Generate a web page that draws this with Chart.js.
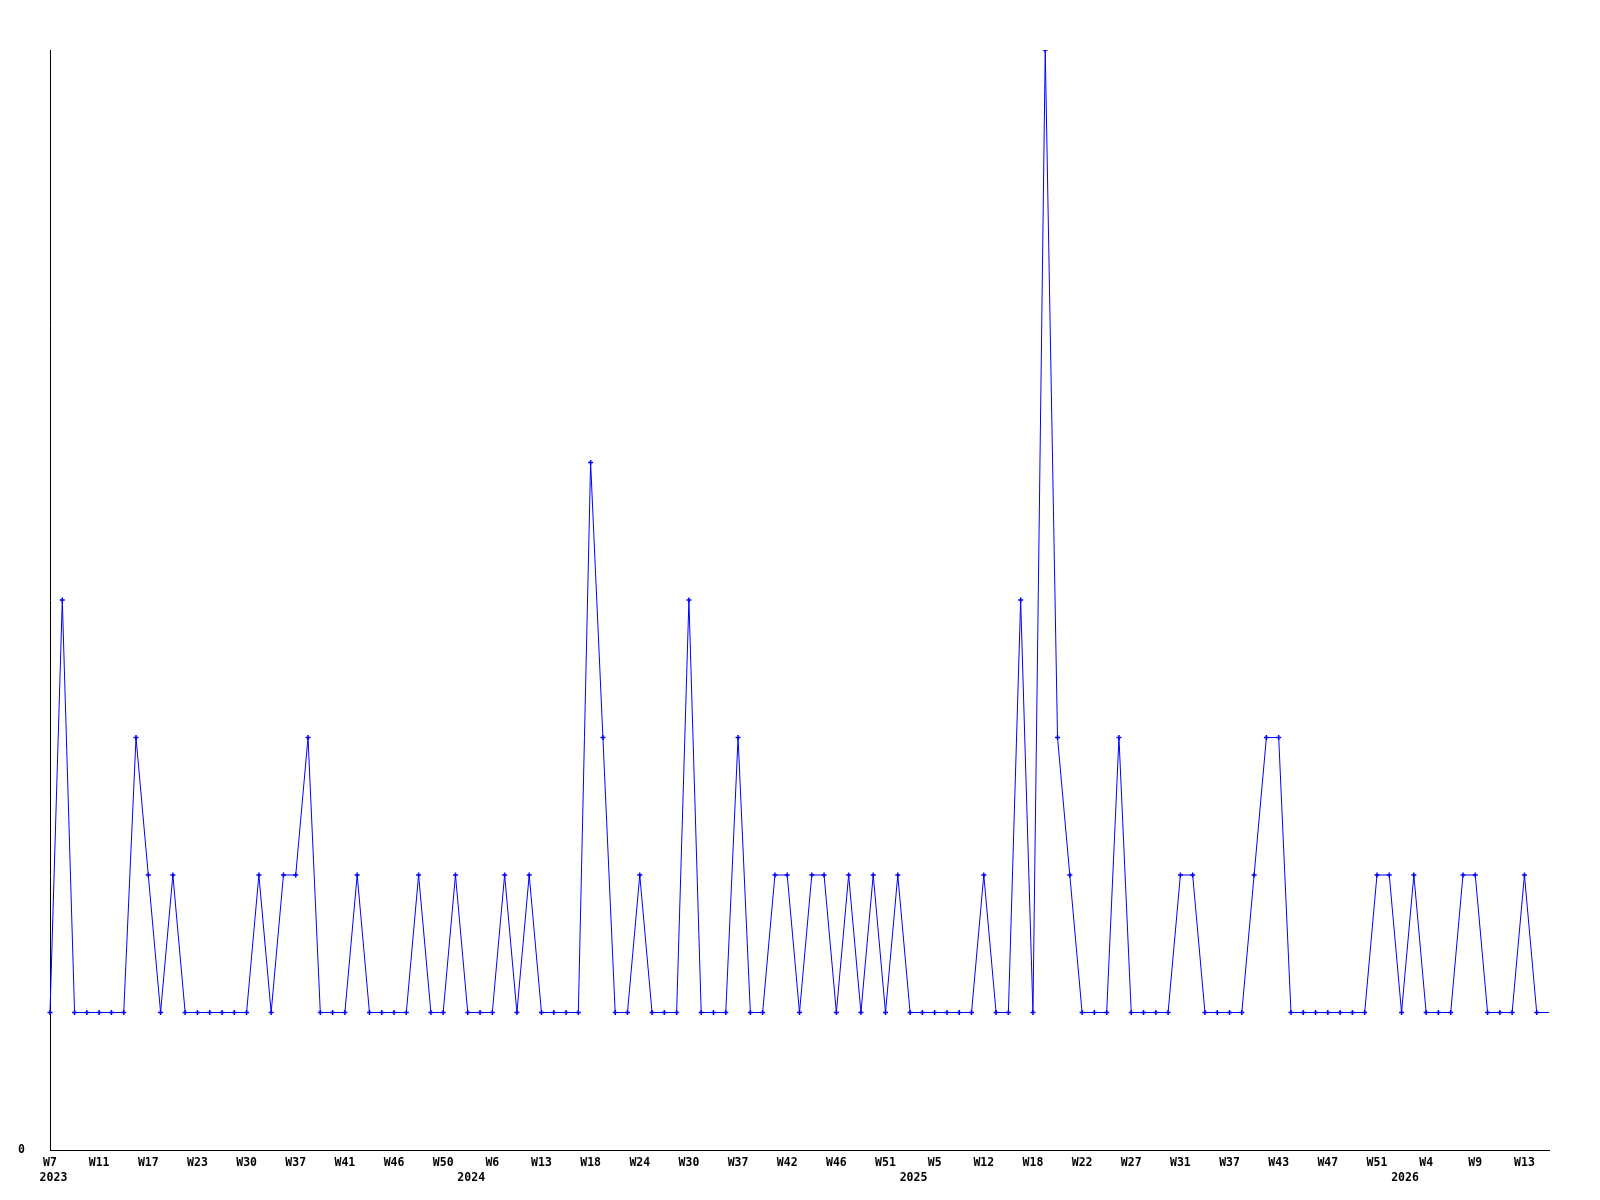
<!DOCTYPE html>
<html>
<head>
<meta charset="utf-8">
<title>Weekly count</title>
<script src="https://cdn.jsdelivr.net/npm/chart.js@4.4.1/dist/chart.umd.min.js"></script>
<style>
  body { margin: 0; background: #fff; }
  #wrap { width: 1600px; height: 1200px; }
</style>
</head>
<body>
<div id="wrap"><canvas id="myChart" width="1600" height="1200"></canvas></div>
<script>
// --- 1. DATA ---
// weeks that have an entry, per year (empty weeks are left out of the chart)
const weeks2023 = [7, 8, 9, 10, 11, 12, 14, 16, 17, 19, 20, 22, 23, 25, 27, 28, 30, 32, 34, 35,
                   37, 38, 39, 40, 41, 42, 43, 45, 46, 47, 48, 49, 50, 52];
const weeks2024 = [1, 3, 6, 8, 10, 11, 13, 14, 15, 17, 18, 19, 21, 22, 24, 26, 27, 28, 30, 32,
                   34, 35, 37, 39, 40, 41, 42, 43, 44, 45, 46, 47, 49, 50, 51, 52];
const weeks2025 = [1, 3, 5, 7, 9, 10, 12, 13, 15, 16, 18, 19, 20, 21, 22, 23, 25, 26, 27, 28,
                   29, 30, 31, 32, 34, 35, 37, 39, 41, 42, 43, 44, 45, 46, 47, 48, 49, 50, 51, 52];
const weeks2026 = [1, 2, 4, 6, 7, 8, 9, 10, 11, 12, 13, 14, 15];
const years = [2023, 2024, 2025, 2026];

// count per week, same order as the weeks above
const counts = [
  1, 4, 1, 1, 1, 1, 1, 3, 2, 1, 2, 1, 1, 1, 1, 1, 1, 2, 1, 2, 2, 3, 1, 1, 1, 2, 1, 1, 1, 1, 2, 1, 1, 2,
  1, 1, 1, 2, 1, 2, 1, 1, 1, 1, 5, 3, 1, 1, 2, 1, 1, 1, 4, 1, 1, 1, 3, 1, 1, 2, 2, 1, 2, 2, 1, 2, 1, 2, 1, 2,
  1, 1, 1, 1, 1, 1, 2, 1, 1, 4, 1, 8, 3, 2, 1, 1, 1, 3, 1, 1, 1, 1, 2, 2, 1, 1, 1, 1, 2, 3, 3, 1, 1, 1, 1, 1, 1, 1, 2, 2,
  1, 2, 1, 1, 1, 2, 2, 1, 1, 1, 2, 1, 1
];

const yAxisMax = 8;
const yTickLabels = ['0'];

// --- 2. BUILD CATEGORIES ---
const labels = [];
const labelYear = [];
[weeks2023, weeks2024, weeks2025, weeks2026].forEach((list, i) => {
  list.forEach(w => {
    labels.push('W' + w);
    labelYear.push(years[i]);
  });
});

// index where a new year starts -> year printed on 2nd line
// (leading space nudges it a bit to the right, like the original)
function yearAt(idx) {
  if (idx === 0 || labelYear[idx] !== labelYear[idx - 1]) return ' ' + labelYear[idx];
  return null;
}

// --- 3. CHART ---
const ctx = document.getElementById('myChart').getContext('2d');
const lastIdx = counts.length - 1;
const tickFont = { family: 'DejaVu Sans Mono', size: 11.5, weight: 'bold', lineHeight: 1.3 };

new Chart(ctx, {
  type: 'line',
  data: {
    labels: labels,
    datasets: [{
      data: counts,
      borderColor: '#0000ff',
      backgroundColor: '#0000ff',
      borderWidth: 1,
      tension: 0,
      fill: false,
      pointStyle: 'cross',
      pointRadius: c => (c.dataIndex === lastIdx ? 0 : 2.5),
      pointBorderWidth: 1.5,
      pointBorderColor: '#0000ff'
    }]
  },
  options: {
    responsive: false,
    animation: false,
    events: [],
    layout: { padding: { top: 50, right: 51, left: 0, bottom: 0 } },
    plugins: { legend: { display: false }, tooltip: { enabled: false } },
    scales: {
      x: {
        type: 'category',
        offset: false,
        grid: { display: false, drawTicks: false },
        border: { display: true, color: '#000', width: 1 },
        ticks: {
          autoSkip: false,
          maxRotation: 0,
          minRotation: 0,
          padding: 6,
          color: '#000',
          font: tickFont,
          callback: function(val, idx) {
            const yr = yearAt(idx);
            const wk = idx % 4 === 0 ? labels[idx] : '';
            if (yr) return [wk, yr];
            return wk;
          }
        },
        afterFit: s => { s.height = 50; }
      },
      y: {
        min: 0,
        max: yAxisMax,
        grid: { display: false, drawTicks: false },
        border: { display: true, color: '#000', width: 1 },
        afterBuildTicks: s => { s.ticks = yTickLabels.map(t => ({ value: Number(t) })); },
        ticks: {
          padding: 25,
          color: '#000',
          font: tickFont,
          callback: v => String(v)
        },
        afterFit: s => { s.width = 50; }
      }
    }
  }
});
</script>
</body>
</html>
